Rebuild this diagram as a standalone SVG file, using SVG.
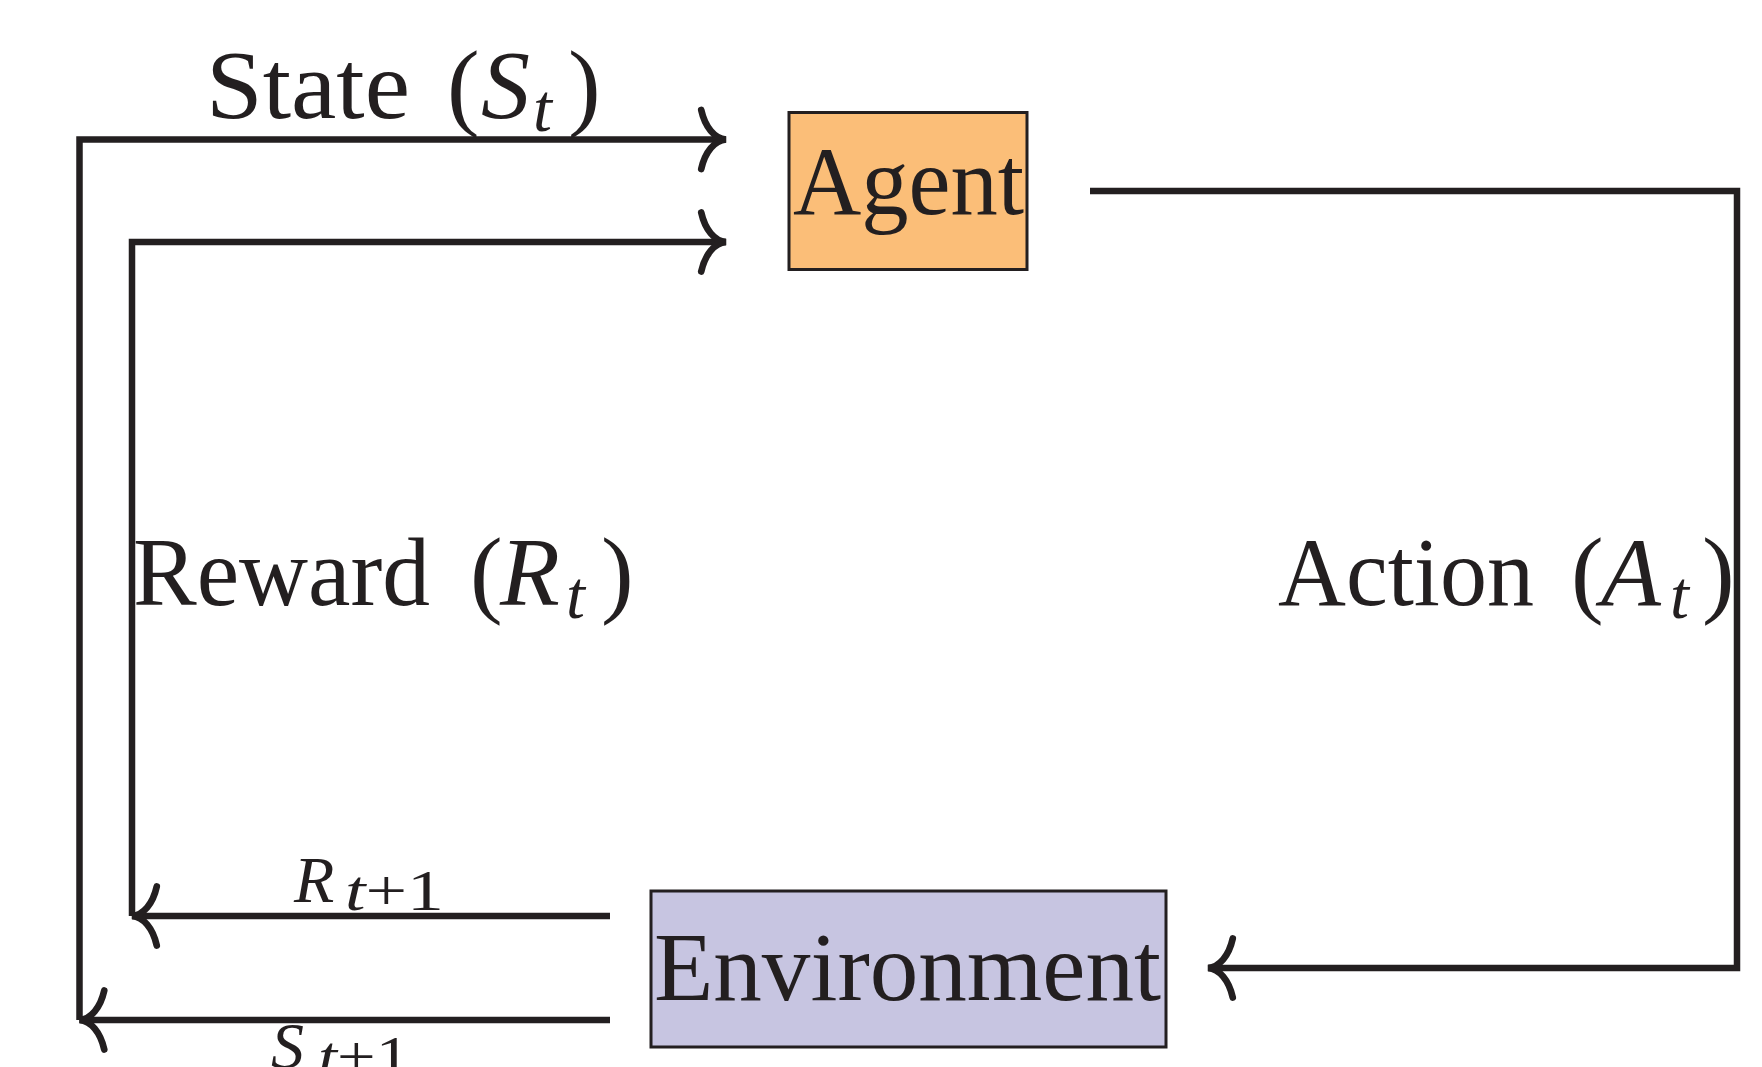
<svg xmlns="http://www.w3.org/2000/svg" width="1762" height="1067" viewBox="0 0 1762 1067">
  <defs>
    <style>
      .wire { fill: none; stroke: #231F20; stroke-width: 6.5; stroke-linecap: butt; stroke-linejoin: miter; }
      .box { stroke: #231F20; stroke-width: 3; }
      .lbl { font-family: "Liberation Serif", "DejaVu Serif", serif; fill: #231F20; }
      .big { font-size: 98px; }
      .sub { font-size: 68px; font-style: italic; }
      .it { font-style: italic; }
      .small { font-size: 66px; }
      .smallsub { font-size: 56px; }
    </style>
    <!-- curved "to" arrowhead, tip at the path end -->
    <marker id="to" markerUnits="userSpaceOnUse" markerWidth="40" markerHeight="74" viewBox="-34 -37 42 74" refX="0" refY="0" orient="auto" overflow="visible">
      <path d="M-26,-31 C-22,-13 -12,-1 0,0 C-12,1 -22,13 -26,31" fill="none" stroke="#231F20" stroke-width="7" stroke-linecap="round"/>
    </marker>
  </defs>

  <rect width="1762" height="1067" fill="#FFFFFF"/>

  <!-- connectors -->
  <g id="connectors">
    <!-- state feedback: environment -> outer loop -> agent -->
    <path class="wire" d="M610,1020 L79.5,1020" marker-end="url(#to)"/>
    <path class="wire" d="M79.5,1020 L79.5,139.5 L726,139.5" marker-end="url(#to)"/>
    <!-- reward feedback: environment -> inner loop -> agent -->
    <path class="wire" d="M610,916 L132,916" marker-end="url(#to)"/>
    <path class="wire" d="M132,916 L132,242 L726,242" marker-end="url(#to)"/>
    <!-- action: agent -> environment -->
    <path class="wire" d="M1090,191 L1737,191 L1737,968 L1208,968" marker-end="url(#to)"/>
  </g>

  <!-- nodes -->
  <g id="agent">
    <rect class="box" x="789" y="112.5" width="238" height="157" fill="#FBBE78"/>
    <text class="lbl big" x="793" y="213.5" textLength="231" lengthAdjust="spacingAndGlyphs">Agent</text>
  </g>

  <g id="environment">
    <rect class="box" x="651" y="891" width="515" height="156" fill="#C7C5E1"/>
    <text class="lbl big" x="654" y="1000" textLength="507" lengthAdjust="spacingAndGlyphs">Environment</text>
  </g>

  <!-- edge labels -->
  <g id="label-state" class="lbl">
    <text class="big" x="206" y="118" textLength="204" lengthAdjust="spacingAndGlyphs">State</text>
    <text class="big" x="447" y="118">(</text>
    <text class="big it" x="481" y="118">S</text>
    <text class="sub" x="533" y="131">t</text>
    <text class="big" x="568" y="118">)</text>
  </g>

  <g id="label-reward" class="lbl">
    <text class="big" x="133" y="604.5" textLength="297" lengthAdjust="spacingAndGlyphs">Reward</text>
    <text class="big" x="470" y="604.5">(</text>
    <text class="big it" x="500" y="604.5">R</text>
    <text class="sub" x="566" y="618">t</text>
    <text class="big" x="601" y="604.5">)</text>
  </g>

  <g id="label-action" class="lbl">
    <text class="big" x="1278" y="604.5" textLength="256" lengthAdjust="spacingAndGlyphs">Action</text>
    <text class="big" x="1571" y="604.5">(</text>
    <text class="big it" x="1601" y="604.5">A</text>
    <text class="sub" x="1670" y="618">t</text>
    <text class="big" x="1702" y="604.5">)</text>
  </g>

  <g id="label-reward-next" class="lbl">
    <text class="small it" x="294" y="902">R</text>
    <text class="smallsub" x="345" y="910" textLength="99" lengthAdjust="spacingAndGlyphs"><tspan font-style="italic">t</tspan>+1</text>
  </g>

  <g id="label-state-next" class="lbl">
    <text class="small it" x="271" y="1068">S</text>
    <text class="smallsub" x="318" y="1076" textLength="92" lengthAdjust="spacingAndGlyphs"><tspan font-style="italic">t</tspan>+1</text>
  </g>
</svg>
